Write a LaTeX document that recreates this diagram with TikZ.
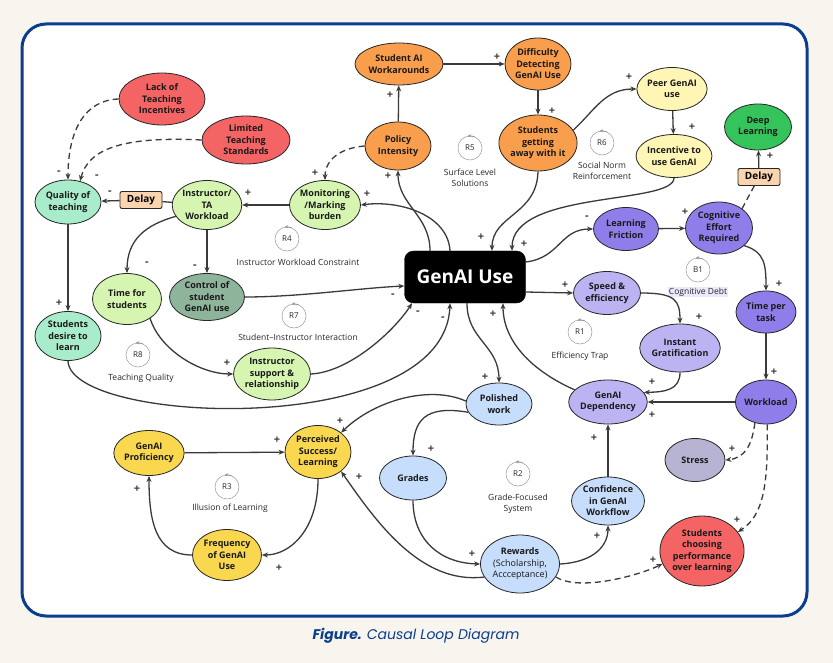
\documentclass[tikz,border=0pt]{standalone}
\usepackage{fontspec}
\setsansfont{Open Sans}
\newfontfamily\poppins{Poppins}
\usetikzlibrary{arrows.meta, shapes.geometric, positioning, calc}
\usepackage{xcolor}
\definecolor{RedVar}{HTML}{F46464}
\definecolor{OrangeVar}{HTML}{F99E4C}
\definecolor{PaleYellow}{HTML}{FFF5B5}
\definecolor{Sun}{HTML}{F9D74E}
\definecolor{Mint}{HTML}{A8ECCB}
\definecolor{LightGreen}{HTML}{D6F5B0}
\definecolor{Sage}{HTML}{8EB49B}
\definecolor{Violet}{HTML}{8F7EEA}
\definecolor{Lilac}{HTML}{BCB4F2}
\definecolor{SkyBlue}{HTML}{C6DDFB}
\definecolor{Haze}{HTML}{B6B3D3}
\definecolor{Leaf}{HTML}{35C45B}
\definecolor{Peach}{HTML}{F9D4AE}
\definecolor{Paper}{HTML}{F8F4EE}
\definecolor{Navy}{HTML}{0B3E8D}
\definecolor{Ink}{HTML}{3A3A3A}

\begin{document}
\begin{tikzpicture}[x=1pt, y=-1pt]\sffamily
	\tikzstyle{VAR} = [ellipse, draw=black!85, line width=.8pt, inner sep=0pt, align=center,
	font=\fontsize{9}{11.5}\selectfont\bfseries, text=black!90]
	\tikzstyle{DELAY} = [rectangle, rounded corners=2pt, draw=black!85, line width=.9pt, fill=Peach,
	minimum width=42pt, minimum height=17pt, font=\fontsize{10}{12}\selectfont\bfseries]
	\tikzstyle{LINK} = [draw=Ink, line width=1.3pt, -{Stealth[length=6pt, width=5pt]}]
	\tikzstyle{DLINK} = [LINK, dash pattern=on 6pt off 4pt]
	\tikzstyle{SIGN} = [inner sep=0pt, font=\fontsize{11}{11}\selectfont\bfseries, text=Ink]
	\tikzstyle{LOOP} = [circle, draw=black!40, line width=.5pt, minimum size=24pt, inner sep=0pt,
	font=\fontsize{8}{8}\selectfont, text=black!85,
	append after command={
		(\tikzlastnode.65) edge[draw=black!45, line width=.5pt, bend right=12,
		-{Stealth[length=3pt, width=3pt]}] (\tikzlastnode.100)}
	]
	\tikzstyle{LOOPNAME} = [align=center, inner sep=1pt, font=\fontsize{8.5}{11}\selectfont, text=black!85]
	
	\fill[Paper] (0,0) rectangle (833,663);
	\useasboundingbox (0,0) rectangle (833,663);
	\draw[Navy, line width=3pt, fill=white, rounded corners=24pt] (22,24) rectangle (807,616);
	
	% teaching side
	\node[VAR, fill=RedVar, minimum width=86pt, minimum height=52pt] (lack) at (162,99) {Lack of\\Teaching\\Incentives};
	\node[VAR, fill=RedVar, minimum width=88pt, minimum height=48pt] (limited) at (246,140) {Limited\\Teaching\\Standards};
	\node[VAR, fill=Mint, minimum width=66pt, minimum height=44pt] (quality) at (68,202) {Quality of\\teaching};
	\node[DELAY] (delayL) at (141,200) {Delay};
	\node[VAR, fill=LightGreen, minimum width=67pt, minimum height=49pt] (instr) at (207,205) {Instructor/\\TA\\Workload};
	\node[VAR, fill=LightGreen, minimum width=71pt, minimum height=49pt] (monit) at (325,205) {Monitoring\\/Marking\\burden};
	\node[VAR, fill=LightGreen, minimum width=69pt, minimum height=51pt] (timestud) at (127,299) {Time for\\students};
	\node[VAR, fill=Sage, minimum width=75pt, minimum height=47pt] (control) at (207,297) {Control of\\student\\GenAI use};
	\node[VAR, fill=Mint, minimum width=66pt, minimum height=49pt] (desire) at (68,336) {Students\\desire to\\learn};
	\node[VAR, fill=LightGreen, minimum width=74pt, minimum height=52pt] (support) at (272,374) {Instructor\\support \&\\relationship};
	
	% policy loop
	\node[VAR, fill=OrangeVar, minimum width=66pt, minimum height=48pt] (policy) at (398,146) {Policy\\Intensity};
	\node[VAR, fill=OrangeVar, minimum width=88pt, minimum height=42pt] (workaround) at (399,64) {Student AI\\Workarounds};
	\node[VAR, fill=OrangeVar, minimum width=66pt, minimum height=52pt] (difficulty) at (538,64) {Difficulty\\Detecting\\GenAI Use};
	\node[VAR, fill=OrangeVar, minimum width=76pt, minimum height=56pt] (getaway) at (538,143) {Students\\getting\\away with it};
	\node[VAR, fill=PaleYellow, minimum width=69pt, minimum height=43pt] (peer) at (672,89) {Peer GenAI\\use};
	\node[VAR, fill=PaleYellow, minimum width=73pt, minimum height=43pt] (incentive) at (674,156) {Incentive to\\use GenAI};
	
	% centre
	\node[draw=black, fill=black, rounded corners=9pt, minimum width=121pt, minimum height=52pt, text=white,
	font=\fontsize{19}{19}\selectfont\bfseries] (genai) at (465,277) {GenAI Use};
	
	% cognitive side
	\node[VAR, fill=Leaf, minimum width=67pt, minimum height=46pt] (deep) at (758,127) {Deep\\Learning};
	\node[DELAY] (delayR) at (759,177) {Delay};
	\node[VAR, fill=Violet, minimum width=65pt, minimum height=43pt] (friction) at (626,229) {Learning\\Friction};
	\node[VAR, fill=Violet, minimum width=67pt, minimum height=52pt] (effort) at (719,228) {Cognitive\\Effort\\Required};
	\node[VAR, fill=Lilac, minimum width=67pt, minimum height=43pt] (speed) at (607,293) {Speed \&\\efficiency};
	\node[VAR, fill=Lilac, minimum width=79pt, minimum height=48pt] (instant) at (680,348) {Instant\\Gratification};
	\node[VAR, fill=Violet, minimum width=60pt, minimum height=42pt] (timetask) at (766,312) {Time per\\task};
	\node[VAR, fill=Violet, minimum width=60pt, minimum height=44pt] (workload) at (766,402) {Workload};
	\node[VAR, fill=Lilac, minimum width=76pt, minimum height=44pt] (depend) at (608,402) {GenAI\\Dependency};
	\node[VAR, fill=Haze, minimum width=60pt, minimum height=43pt] (stress) at (695,460) {Stress};
	\node[VAR, fill=RedVar, minimum width=82pt, minimum height=70pt] (choosing) at (702,551) {Students\\choosing\\performance\\over learning};
	
	% grades side
	\node[VAR, fill=SkyBlue, minimum width=66pt, minimum height=42pt] (polished) at (499,404) {Polished\\work};
	\node[VAR, fill=SkyBlue, minimum width=67pt, minimum height=44pt] (grades) at (413,478) {Grades};
	\node[VAR, fill=SkyBlue, minimum width=73pt, minimum height=48pt] (confidence) at (608,501) {Confidence\\in GenAI\\Workflow};
	\node[VAR, fill=SkyBlue, minimum width=79pt, minimum height=58pt] (rewards) at (520,564) {Rewards\\{\mdseries(Scholarship,}\\{\mdseries Accceptance)}};
	\node[VAR, fill=Sun, minimum width=67pt, minimum height=45pt] (proficiency) at (149,453) {GenAI\\Proficiency};
	\node[VAR, fill=Sun, minimum width=66pt, minimum height=53pt] (perceived) at (318,452) {Perceived\\Success/\\Learning};
	\node[VAR, fill=Sun, minimum width=69pt, minimum height=51pt] (frequency) at (227,555) {Frequency\\of GenAI\\Use};
	
	% loops
	\node[LOOP] (r4) at (287,239) {R4};
	\node[LOOPNAME] (r4txt) at (298,262) {Instructor Workload Constraint};
	\node[LOOP] (r5) at (470,148) {R5};
	\node[LOOPNAME] (r5txt) at (470,178) {Surface Level\\Solutions};
	\node[LOOP] (r6) at (602,143) {R6};
	\node[LOOPNAME] (r6txt) at (602,171) {Social Norm\\Reinforcement};
	\node[LOOP] (b1) at (698,270) {B1};
	\node[LOOPNAME, fill=Lilac!30] (b1txt) at (698,292) {Cognitive Debt};
	\node[LOOP] (r7) at (294,316) {R7};
	\node[LOOPNAME] (r7txt) at (298,337) {Student–Instructor Interaction};
	\node[LOOP] (r8) at (138,355) {R8};
	\node[LOOPNAME] (r8txt) at (141,378) {Teaching Quality};
	\node[LOOP] (r1) at (580,332) {R1};
	\node[LOOPNAME] (r1txt) at (580,356) {Efficiency Trap};
	\node[LOOP] (r3) at (227,487) {R3};
	\node[LOOPNAME] (r3txt) at (230,508) {Illusion of Learning};
	\node[LOOP] (r2) at (518,474) {R2};
	\node[LOOPNAME] (r2txt) at (518,504) {Grade-Focused\\System};
	
	% links
	\draw[LINK] (policy) -- (workaround);
	\draw[LINK] (workaround) -- (difficulty);
	\draw[LINK] (difficulty) -- (getaway);
	\draw[LINK] (getaway.20) .. controls (595,110) and (605,89) .. (peer.west);
	\draw[LINK] (peer) -- (incentive);
	\draw[LINK] (incentive.south) .. controls (674,205) and (512,190) .. ([xshift=47pt]genai.north);
	\draw[LINK] (getaway.south) .. controls (537,215) and (492,215) .. ([xshift=27pt]genai.north);
	\draw[LINK] ([xshift=-35pt]genai.north) .. controls (430,215) and (398,205) .. (policy.south);
	\draw[LINK] ([xshift=-15pt]genai.north) .. controls (448,215) and (400,200) .. (monit.east);
	\draw[DLINK] (policy.west) .. controls (340,148) and (325,160) .. (monit.north);
	\draw[LINK] (monit) -- (instr);
	\draw[Ink, line width=1.3pt] (instr) -- (delayL);
	\draw[LINK] (delayL) -- (quality);
	\draw[DLINK] (lack.west) .. controls (85,100) and (68,130) .. (quality.north);
	\draw[DLINK] (limited.west) .. controls (120,136) and (88,150) .. (quality.60);
	\draw[LINK] (quality) -- (desire);
	\draw[LINK] (instr.200) .. controls (145,225) and (127,240) .. (timestud.north);
	\draw[LINK] (instr) -- (control);
	\draw[LINK] (control.east) .. controls (300,297) and (360,288) .. ([yshift=-9pt]genai.west);
	\draw[LINK] (timestud.-40) .. controls (160,350) and (200,374) .. (support.west);
	\draw[LINK] (support.east) .. controls (350,372) and (395,330) .. ([xshift=-53pt]genai.south);
	\draw[LINK] (desire.south) .. controls (70,425) and (445,440) .. ([xshift=-15pt]genai.south);
	\draw[LINK] ([xshift=2pt]genai.south) .. controls (467,340) and (499,345) .. (polished.north);
	\draw[LINK] (depend.160) .. controls (530,370) and (503,340) .. ([xshift=38pt]genai.south);
	\draw[LINK] ([yshift=15pt]genai.east) .. controls (560,258) and (560,229) .. (friction.west);
	\draw[LINK] ([yshift=-15pt]genai.east) -- (speed.west);
	\draw[LINK] (friction) -- (effort);
	\draw[LINK] (speed.east) .. controls (675,293) and (680,300) .. (instant.north);
	\draw[LINK] (instant.south) .. controls (680,390) and (665,392) .. (depend.15);
	\draw[LINK] (workload) -- (depend);
	\draw[LINK] (effort.-35) .. controls (765,252) and (766,265) .. (timetask.north);
	\draw[LINK] (timetask) -- (workload);
	\draw[DLINK, -] (effort.40) -- (delayR);
	\draw[LINK] (delayR) -- (deep);
	\draw[DLINK] (rewards.-20) .. controls (580,592) and (640,575) .. (choosing.198);
	\draw[DLINK] (workload.242) .. controls (752,445) and (745,458) .. (stress.east);
	\draw[DLINK] (workload.-87) .. controls (768,480) and (765,515) .. (choosing.28);
	\draw[LINK] (confidence) -- (depend);
	\draw[LINK] (rewards.east) .. controls (595,562) and (608,545) .. (confidence.south);
	\draw[LINK] (grades.south) .. controls (413,540) and (440,563) .. (rewards.west);
	\draw[LINK] (rewards.200) .. controls (420,585) and (375,520) .. (perceived.-40);
	\draw[LINK] (polished.175) .. controls (430,385) and (375,400) .. (perceived.40);
	\draw[LINK] (polished.195) .. controls (425,405) and (413,420) .. (grades.north);
	\draw[LINK] (proficiency) -- (perceived);
	\draw[LINK] (perceived.south) .. controls (318,530) and (290,555) .. (frequency.east);
	\draw[LINK] (frequency.west) .. controls (155,555) and (149,520) .. (proficiency.south);
	
	% polarities
	\foreach \sx/\sy/\sg [count=\i] in {59/173/-, 97/177/-, 110/193/-, 248/193/+, 315/173/+, 367/194/+,
		388/176/+, 390/95/+, 497/57/+, 552/111/+, 629/77/+, 692/127/+, 770/156/+, 481/237/+, 524/244/+,
		587/218/-, 685/212/+, 779/284/+, 774/372/+, 565/285/+, 699/317/+, 652/382/+, 652/415/+,
		493/314/+, 485/377/+, 59/303/+, 147/264/-, 195/267/-, 393/296/-, 418/313/-, 443/319/-,
		227/363/+, 277/440/+, 340/421/+, 359/477/+, 279/568/+, 137/489/+, 431/449/+, 472/554/+,
		597/536/+, 594/438/+, 653/560/+, 737/520/+, 732/449/+}
	\node[SIGN] (sign\i) at (\sx,\sy) {\sg};
	
	\node[text=Navy, font=\poppins\fontsize{14}{14}\selectfont] (caption) at (416,636) {\textbf{\textit{Figure.}} \textit{Causal Loop Diagram}};
\end{tikzpicture}
\end{document}
